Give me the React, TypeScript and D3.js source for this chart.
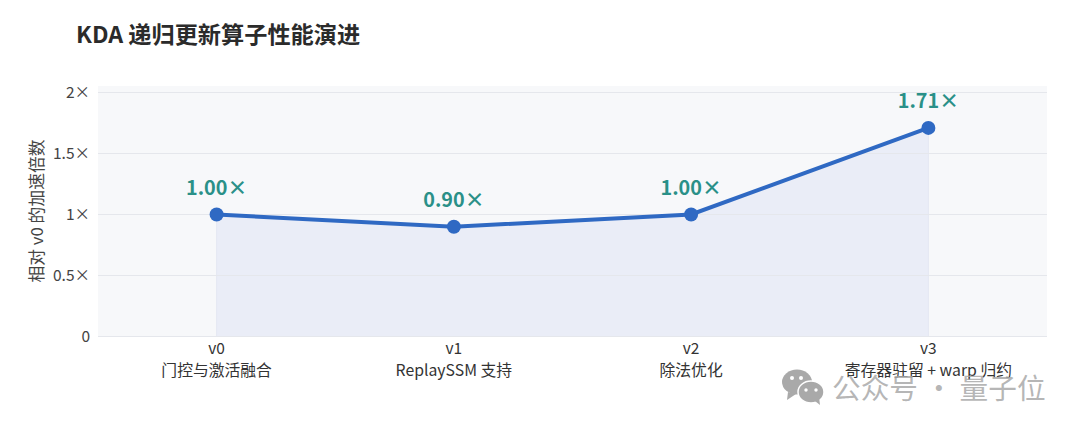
import * as d3 from "d3";

const versions = ["v0", "v1", "v2", "v3"];
const features = ["门控与激活融合", "ReplaySSM 支持", "除法优化", "寄存器驻留 + warp 归约"];
const speedups = [1.0, 0.9, 1.0, 1.71];
const speedupLabels = ["1.00×", "0.90×", "1.00×", "1.71×"];
const yTicks = [0, 0.5, 1, 1.5, 2];
const yTickLabels = ["0", "0.5×", "1×", "1.5×", "2×"];

const width = 1080;
const height = 432;
const font = '"Noto Sans CJK SC", "Noto Sans", sans-serif';

const plotLeft = 98;
const plotRight = 1047;
const plotTop = 86;

export default function App() {
    const scaleX = d3.scalePoint<string>().domain(versions).range([plotLeft, plotRight]).padding(0.5);
    const scaleY = d3.scaleLinear().domain([0, 2]).range([336.5, 92.5]);
    const points = versions.map((v, i) => ({ x: scaleX(v) as number, y: speedups[i] }));

    const line = d3
        .line<{ x: number; y: number }>()
        .x((d) => d.x)
        .y((d) => scaleY(d.y));
    const area = d3
        .area<{ x: number; y: number }>()
        .x((d) => d.x)
        .y0(scaleY(0))
        .y1((d) => scaleY(d.y));

    return (
        <svg
            width={width}
            height={height}
            viewBox={`0 0 ${width} ${height}`}
            style={{ position: "absolute", left: 0, top: 0, background: "#fff" }}
            fontFamily={font}
        >
            <text x={76} y={43} fontSize={23.2} fontWeight={700} fill="#2b2b2b">
                KDA 递归更新算子性能演进
            </text>

            <rect x={plotLeft} y={plotTop} width={plotRight - plotLeft} height={scaleY(0) - plotTop} fill="#f7f8fa" />

            <path d={area(points) ?? ""} fill="#eaedf7" stroke="#e4e7f2" strokeWidth={1} />

            {/* grid */}
            {yTicks.map((t, i) => (
                <g key={t}>
                    <line x1={plotLeft} x2={plotRight} y1={scaleY(t)} y2={scaleY(t)} stroke="#e5e7ec" strokeWidth={1} />
                    <text x={90} y={scaleY(t) + 5.5} textAnchor="end" fontSize={15.5} fill="#444">
                        {yTickLabels[i]}
                    </text>
                </g>
            ))}

            <path d={line(points) ?? ""} fill="none" stroke="#2f69c3" strokeWidth={4} />
            {points.map((p, i) => (
                <g key={versions[i]}>
                    <circle cx={p.x} cy={scaleY(p.y)} r={7} fill="#2f69c3" />
                    <text
                        x={p.x}
                        y={scaleY(p.y) - 20}
                        textAnchor="middle"
                        fontSize={19.8}
                        fontWeight={700}
                        fill="#2a9088"
                    >
                        {speedupLabels[i]}
                    </text>
                    <text x={p.x} y={354} textAnchor="middle" fontSize={15.5} fill="#333">
                        {versions[i]}
                    </text>
                    <text x={p.x} y={376} textAnchor="middle" fontSize={15.8} fill="#333">
                        {features[i]}
                    </text>
                </g>
            ))}

            <text
                transform="translate(43,211) rotate(-90)"
                textAnchor="middle"
                fontSize={16.8}
                fill="#444"
            >
                相对 v0 的加速倍数
            </text>

            {/* watermark */}
            <g fill="#a9a9a9">
                <ellipse cx={797} cy={382} rx={15} ry={12.5} />
                <path d="M788 392 L787 400 L796 394 Z" />
                <ellipse cx={811} cy={392} rx={13} ry={11} stroke="#fff" strokeWidth={1.5} />
                <path d="M815 401 L820 405 L819 397 Z" />
            </g>
            <g fill="#fff">
                <circle cx={792} cy={378} r={2} />
                <circle cx={801} cy={378} r={2} />
                <circle cx={806} cy={390} r={1.7} />
                <circle cx={816} cy={390} r={1.7} />
            </g>
            <text x={832} y={399} fontSize={28.7} fill="#a9a9a9" fillOpacity={0.85}>
                公众号 · 量子位
            </text>
        </svg>
    );
}
